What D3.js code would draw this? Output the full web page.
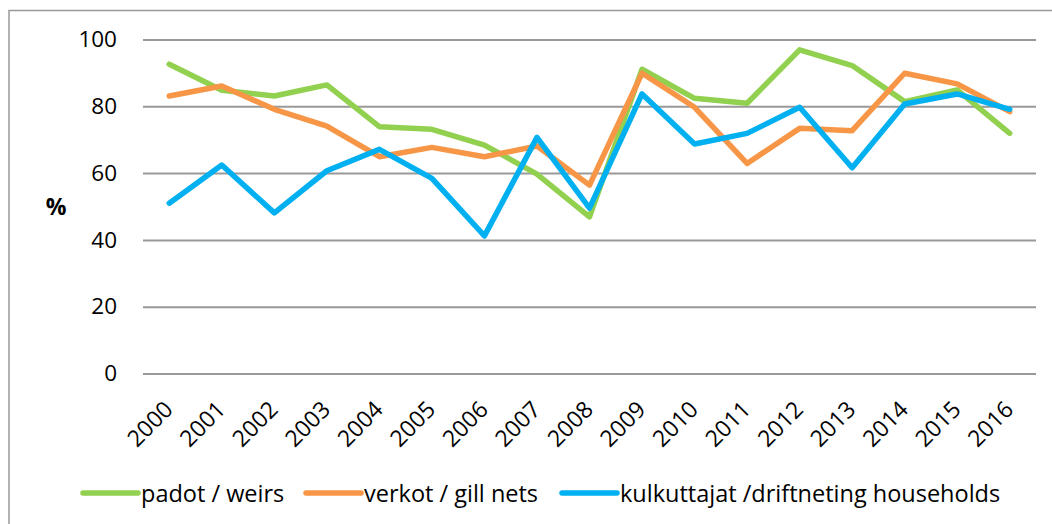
<!DOCTYPE html>
<html>
<head>
<meta charset="utf-8">
<script src="https://cdn.jsdelivr.net/npm/d3@7"></script>
<style>
  html, body { margin: 0; padding: 0; background: #fff; }
  svg text { font-family: "Open Sans", sans-serif; fill: #000; }
</style>
</head>
<body>
<svg id="chart" width="1052" height="524"></svg>
<script>
// chart data
const years = ['2000', '2001', '2002', '2003', '2004', '2005', '2006', '2007', '2008',
               '2009', '2010', '2011', '2012', '2013', '2014', '2015', '2016'];
const weirs = [92.6, 84.8, 83.1, 86.4, 73.9, 73.1, 68.4, 59.7, 46.9,
               91.1, 82.4, 80.9, 96.9, 92.2, 81.4, 84.9, 71.9];
const gillNets = [83.1, 86.1, 79.1, 74.1, 64.9, 67.7, 64.9, 68.1, 56.4,
                  89.9, 79.7, 62.9, 73.4, 72.7, 89.9, 86.7, 78.4];
const driftnet = [51.0, 62.4, 48.1, 60.7, 67.1, 58.4, 41.2, 70.7, 49.5,
                  83.7, 68.7, 71.9, 79.7, 61.6, 80.7, 83.7, 79.1];
const yTicks = [0, 20, 40, 60, 80, 100];
const seriesNames = ['padot / weirs', 'verkot / gill nets', 'kulkuttajat /driftneting households'];

const series = [
    {name: seriesNames[0], values: weirs, color: '#92D050'},
    {name: seriesNames[1], values: gillNets, color: '#F79646'},
    {name: seriesNames[2], values: driftnet, color: '#00B0F0'}
];

const svg = d3.select('#chart');
const plotLeft = 143, plotRight = 1036, plotTop = 39.5, plotBottom = 373.5;

// outer frame (runs past right and bottom edge)
svg.append('rect')
    .attr('x', 9).attr('y', 10.5)
    .attr('width', 1100).attr('height', 600)
    .attr('fill', 'none')
    .attr('stroke', '#999')
    .attr('stroke-width', 1.5);

const xScale = d3.scalePoint()
    .domain(years)
    .range([plotLeft, plotRight])
    .padding(0.5);

const yScale = d3.scaleLinear()
    .domain([0, 100])
    .range([plotBottom, plotTop]);

// y gridlines + labels
const yAxis = d3.axisLeft(yScale)
    .tickValues(yTicks)
    .tickSize(-(plotRight - plotLeft))
    .tickPadding(26);

const gy = svg.append('g')
    .attr('transform', `translate(${plotLeft},0)`)
    .call(yAxis);
gy.select('.domain').remove();
gy.selectAll('.tick line').attr('stroke', '#999').attr('stroke-width', 2);
gy.selectAll('.tick text')
    .attr('font-size', 22.5)
    .attr('font-family', '"Open Sans", sans-serif')
    .attr('fill', '#000');

svg.append('text')
    .attr('x', 56).attr('y', 209)
    .attr('text-anchor', 'middle')
    .attr('dominant-baseline', 'middle')
    .attr('font-size', 23)
    .attr('font-weight', 'bold')
    .text('%');

// rotated year labels
svg.append('g')
    .selectAll('text')
    .data(years)
    .enter()
    .append('text')
    .attr('transform', d => `translate(${xScale(d) + 5},411) rotate(-45)`)
    .attr('text-anchor', 'end')
    .attr('font-size', 23)
    .text(d => d);

// lines
const line = d3.line()
    .x((_, i) => xScale(years[i]))
    .y(d => yScale(d));

svg.append('g')
    .selectAll('path')
    .data(series)
    .enter()
    .append('path')
    .attr('d', d => line(d.values))
    .attr('fill', 'none')
    .attr('stroke', d => d.color)
    .attr('stroke-width', 5.5)
    .attr('stroke-linejoin', 'round')
    .attr('stroke-linecap', 'round');

// legend
const legendStarts = [83, 306, 562];
const legendY = 493;
const legend = svg.append('g')
    .selectAll('g')
    .data(series)
    .enter()
    .append('g')
    .attr('transform', (_, i) => `translate(${legendStarts[i]},${legendY})`);

legend.append('line')
    .attr('x1', 0).attr('x2', 55)
    .attr('y1', 0).attr('y2', 0)
    .attr('stroke', d => d.color)
    .attr('stroke-width', 5.5)
    .attr('stroke-linecap', 'round');

legend.append('text')
    .attr('x', 58)
    .attr('y', 0)
    .attr('dominant-baseline', 'central')
    .attr('font-size', 23.5)
    .text(d => d.name);
</script>
</body>
</html>
